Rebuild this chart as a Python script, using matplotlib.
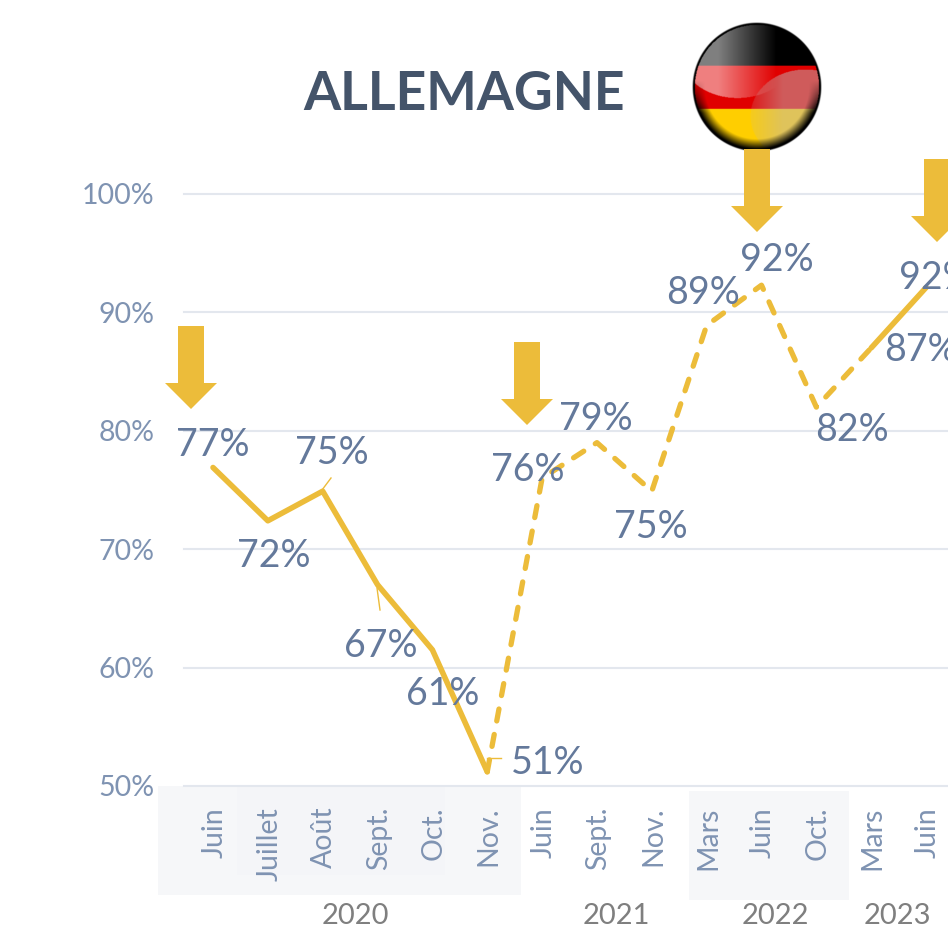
# Allemagne - line chart with arrows and flag
import numpy as np
import matplotlib
matplotlib.use("Agg")
import matplotlib.pyplot as plt
from matplotlib.patches import Polygon, Rectangle
from matplotlib.transforms import ScaledTranslation

plt.rcParams['font.family'] = ['Lato', 'DejaVu Sans']

months = ["Juin", "Juillet", "Août", "Sept.", "Oct.", "Nov.", "Juin", "Sept.",
          "Nov.", "Mars", "Juin", "Oct.", "Mars", "Juin"]
values = [76.9, 72.4, 74.9, 67.0, 61.5, 51.2, 76.0, 79.0, 74.9, 88.9, 92.3, 82.0, 87.0, 92.1]
labels = ["77%", "72%", "75%", "67%", "61%", "51%", "76%", "79%", "75%", "89%", "92%", "82%", "87%", "92%"]
y_ticks = [50, 60, 70, 80, 90, 100]
years = ["2020", "2021", "2022", "2023"]

# label offset from its point, in pixels (x right, y up)
label_dx = [0, 6, 9, 3, 10, 60, -14, -1, -1, -4, 15, 36, 50, 10]
label_dy = [23, -35, 38, -61, -44, 9, 8, 24, -36, 32, 25, -23, -2, 10]
year_x = [355, 616, 775, 897]
arrow_tips = [(191, 409), (527, 425), (757, 232), (937, 242)]

W, H = 948, 952
GOLD = "#ECBC3A"
LABEL = "#64799B"
TICK = "#7F93B2"

fig = plt.figure(figsize=(W / 100, H / 100), dpi=100, facecolor="white")


# axes in picture pixels, for the things that are not on the chart scale
def pixel_axes(z):
    a = fig.add_axes([0, 0, 1, 1], zorder=z)
    a.set_xlim(0, W)
    a.set_ylim(H, 0)
    a.axis("off")
    return a


back = pixel_axes(0)
front = pixel_axes(2)

# shaded bands behind the month labels
back.add_patch(Rectangle((158, 786), 363, 109, color="#F6F7F9", lw=0))
back.add_patch(Rectangle((237, 786), 208, 89, color="#F4F5F8", lw=0))
back.add_patch(Rectangle((689, 791), 160, 109, color="#F6F7F9", lw=0))

# main chart, scales fitted to the picture
left, right, top, bottom = 184, W, 194, 786
ax = fig.add_axes([left / W, 1 - bottom / H, (right - left) / W, (bottom - top) / H], zorder=1)
ax.patch.set_visible(False)
step = 54.85
ax.set_xlim((left - 213) / step, (right - 213) / step)
ax.set_ylim(50, 100)
for s in ax.spines.values():
    s.set_visible(False)

ax.set_yticks(y_ticks)
ax.set_yticklabels([str(t) + "%" for t in y_ticks], fontsize=20.5, color=TICK)
ax.set_xticks(range(len(months)))
ax.set_xticklabels(months, rotation=90, fontsize=20.5, color=TICK)
ax.tick_params(axis="y", length=0, pad=21)
ax.tick_params(axis="x", length=0, pad=15)
shift = ScaledTranslation(1.5 / 100, 0, fig.dpi_scale_trans)
for lab in ax.get_xticklabels():
    lab.set_transform(lab.get_transform() + shift)
for t in y_ticks:
    ax.axhline(t, color="#E3E7EE", lw=1.5, zorder=1, clip_on=False)

x = np.arange(len(values))
ax.plot(x[:6], values[:6], color=GOLD, lw=4, solid_capstyle="round",
        solid_joinstyle="round", zorder=3, clip_on=False)
ax.plot(x[5:13], values[5:13], color=GOLD, lw=3.8, linestyle=(0, (2.3, 2.6)),
        dash_capstyle="round", dash_joinstyle="round", zorder=3, clip_on=False)
ax.plot(x[12:], values[12:], color=GOLD, lw=4, solid_capstyle="round", zorder=3, clip_on=False)

for i in range(len(values)):
    ax.annotate(labels[i], (x[i], values[i]), xytext=(label_dx[i], label_dy[i]),
                textcoords="offset pixels", ha="center", va="center",
                fontsize=27, color=LABEL, zorder=5, annotation_clip=False)

# thin leader lines of the labels
for (x0, y0), (x1, y1) in [((322, 490), (331, 478)), ((377, 588), (380, 610)), ((487, 758), (501, 758))]:
    front.plot([x0, x1], [y0, y1], color=GOLD, lw=1)

# arrows
for tx, ty in arrow_tips:
    pts = [(tx - 13, ty - 83), (tx + 13, ty - 83), (tx + 13, ty - 26), (tx + 26, ty - 26),
           (tx, ty), (tx - 26, ty - 26), (tx - 13, ty - 26)]
    front.add_patch(Polygon(pts, closed=True, color=GOLD, lw=0))

front.text(464, 94, "ALLEMAGNE", fontsize=38.5, fontweight="bold", color="#44546A",
           ha="center", va="center")
for name, yx in zip(years, year_x):
    back.text(yx, 916, name, fontsize=21, color="#7F7F7F", ha="center", va="center")

# glossy flag
n = 256
v, u = np.mgrid[-1:1:n * 1j, -1:1:n * 1j]
r = np.sqrt(u ** 2 + v ** 2)
img = np.zeros((n, n, 4))
img[..., :3] = np.array([0.88, 0.0, 0.0])
img[v < -0.33] = [0, 0, 0, 0]
img[v > 0.34] = [1.0, 0.81, 0.0, 0]
hi_a = (((u + 0.3) / 0.85) ** 2 + ((v + 0.45) / 0.62) ** 2 < 1) * 0.5 * np.clip((0.3 - u) / 0.9, 0, 1)
hi_b = (((u - 0.75) / 0.85) ** 2 + ((v - 0.45) / 0.72) ** 2 < 1) * 0.5 * np.clip((u + 0.3) / 0.7, 0, 1)
img[..., :3] = img[..., :3] * (1 - hi_a[..., None]) + hi_a[..., None]
img[..., :3] = img[..., :3] * (1 - hi_b[..., None]) + hi_b[..., None] * np.array([0.75, 0.72, 0.72])
dark = (np.clip((r - 0.8) / 0.16, 0, 1) * np.clip((v + 0.1) / 0.5, 0, 1))[..., None]
img[..., :3] = img[..., :3] * (1 - dark)
img[r > 0.96, :3] = 0
img[..., 3] = np.clip((1 - r) * 60, 0, 1)
front.imshow(img, extent=(692, 822, 152, 22), aspect="auto", interpolation="bilinear")
front.set_xlim(0, W)
front.set_ylim(H, 0)

fig.savefig("out.png", dpi=100)
